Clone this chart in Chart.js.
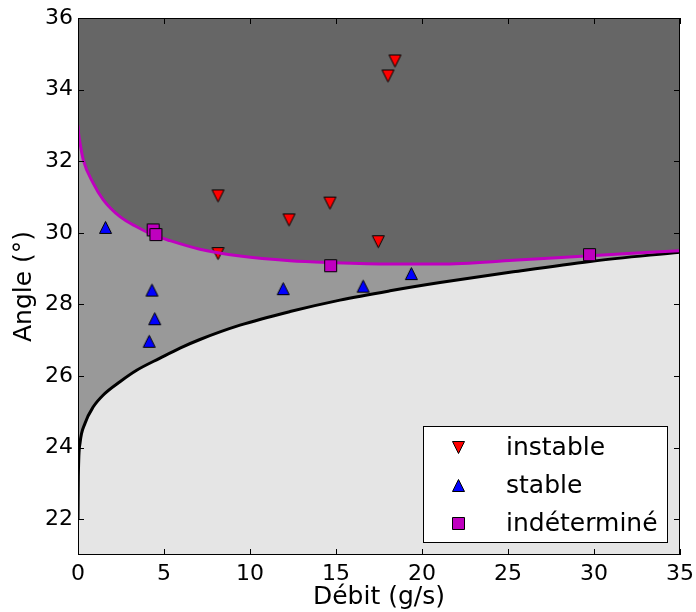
<!DOCTYPE html>
<html><head><meta charset="utf-8">
<script src="https://cdn.jsdelivr.net/npm/chart.js@4/dist/chart.umd.min.js"></script>
<style>html,body{margin:0;padding:0;background:#fff}</style>
</head><body>
<canvas id="c" width="696" height="612"></canvas>
<script>
// ---- data ----
const instableX = [18.43, 18.02, 8.14, 12.27, 14.65, 17.46, 8.14];
const instableY = [34.80, 34.38, 31.03, 30.36, 30.83, 29.75, 29.42];
const stableX = [1.60, 4.30, 4.46, 4.14, 11.93, 16.58, 19.38];
const stableY = [30.15, 28.40, 27.60, 26.97, 28.44, 28.51, 28.86];
const indetX = [4.37, 4.53, 14.69, 29.74];
const indetY = [30.08, 29.95, 29.08, 29.39];
const upperCurveX = [0, 0.03, 0.12, 0.31, 0.89, 1.47, 2.44, 3.41, 4.38, 5.35, 7.09, 9.42, 12.33, 14.65, 18.14, 21.05, 25.31, 29.77, 35];
const upperCurveY = [33.0, 32.8, 32.5, 32.03, 31.38, 30.92, 30.45, 30.17, 29.94, 29.78, 29.54, 29.35, 29.22, 29.17, 29.13, 29.13, 29.23, 29.36, 29.50];
const lowerCurveX = [0.002, 0.02, 0.116, 0.41, 0.89, 1.47, 2.44, 3.41, 4.77, 5.93, 7.09, 9.42, 12.33, 15.23, 18.14, 21.05, 25.31, 29.77, 35];
const lowerCurveY = [22.0, 23.2, 24.12, 24.68, 25.14, 25.47, 25.84, 26.16, 26.50, 26.78, 27.02, 27.42, 27.80, 28.12, 28.38, 28.61, 28.91, 29.20, 29.46];
const xTicks = [0, 5, 10, 15, 20, 25, 30, 35];
const yTicks = [22, 24, 26, 28, 30, 32, 34, 36];
const seriesNames = ['instable', 'stable', 'indéterminé'];
const xTitle = 'Débit (g/s)';
const yTitle = 'Angle (°)';

const zip = (xs, ys) => xs.map((x, i) => ({x, y: ys[i]}));
const FONT = "'DejaVu Sans', sans-serif";
const MAG = '#bf00bf';

function marker(kind, color) {
  const c = document.createElement('canvas');
  c.width = 15; c.height = 15;
  const g = c.getContext('2d');
  g.beginPath();
  if (kind === 'down') { g.moveTo(1.5, 1.5); g.lineTo(13.5, 1.5); g.lineTo(7.5, 13.5); g.closePath(); }
  else if (kind === 'up') { g.moveTo(7.5, 1.5); g.lineTo(13.5, 13.5); g.lineTo(1.5, 13.5); g.closePath(); }
  else { g.rect(1.5, 1.5, 12, 12); }
  g.fillStyle = color; g.fill();
  g.lineWidth = 1; g.strokeStyle = '#000'; g.stroke();
  return c;
}
const mDown = marker('down', '#ff0000');
const mUp = marker('up', '#0000ff');
const mSq = marker('sq', MAG);

const deco = {
  id: 'deco',
  beforeDraw(chart) {
    const {ctx, chartArea: a} = chart;
    ctx.save();
    ctx.fillStyle = '#e5e5e5';
    ctx.fillRect(a.left, a.top, a.right - a.left, a.bottom - a.top);
    ctx.restore();
  },
  afterDraw(chart) {
    const {ctx, chartArea: a, scales} = chart;
    ctx.save();
    ctx.strokeStyle = '#000'; ctx.lineWidth = 1;
    ctx.beginPath();
    const L = 6;
    xTicks.forEach(v => {
      const px = Math.round(scales.x.getPixelForValue(v)) + 0.5;
      ctx.moveTo(px, a.bottom); ctx.lineTo(px, a.bottom - L);
      ctx.moveTo(px, a.top); ctx.lineTo(px, a.top + L);
    });
    yTicks.forEach(v => {
      const py = Math.round(scales.y.getPixelForValue(v)) + 0.5;
      ctx.moveTo(a.left, py); ctx.lineTo(a.left + L, py);
      ctx.moveTo(a.right, py); ctx.lineTo(a.right - L, py);
    });
    ctx.stroke();
    ctx.strokeRect(a.left + 0.5, a.top + 0.5, a.right - a.left - 1, a.bottom - a.top - 1);
    // legend
    const bx = 423.5, by = 426.5, bw = 244, bh = 116;
    ctx.fillStyle = '#fff'; ctx.fillRect(bx, by, bw, bh);
    ctx.strokeRect(bx, by, bw, bh);
    const imgs = [mDown, mUp, mSq];
    const rows = [447, 485, 523];
    ctx.font = '25px ' + FONT; ctx.fillStyle = '#000';
    ctx.textBaseline = 'middle'; ctx.textAlign = 'left';
    rows.forEach((ry, i) => {
      ctx.drawImage(imgs[i], 458 - 7, ry - 7);
      ctx.fillText(seriesNames[i], 506, ry + 1);
    });
    ctx.restore();
  }
};

new Chart(document.getElementById('c'), {
  type: 'scatter',
  data: {
    datasets: [
      {label: seriesNames[2], data: zip(indetX, indetY), pointStyle: mSq, pointRadius: 7, pointHoverRadius: 7},
      {label: 'upper', data: zip(upperCurveX, upperCurveY), showLine: true, borderColor: MAG, borderWidth: 3,
        pointRadius: 0, cubicInterpolationMode: 'monotone', fill: 'end', backgroundColor: '#666666'},
      {label: seriesNames[0], data: zip(instableX, instableY), pointStyle: mDown, pointRadius: 7, pointHoverRadius: 7},
      {label: seriesNames[1], data: zip(stableX, stableY), pointStyle: mUp, pointRadius: 7, pointHoverRadius: 7},
      {label: 'lower', data: zip(lowerCurveX, lowerCurveY), showLine: true, borderColor: '#000', borderWidth: 3,
        pointRadius: 0, cubicInterpolationMode: 'monotone', fill: 'end', backgroundColor: '#999999'}
    ]
  },
  options: {
    responsive: false, animation: false, devicePixelRatio: 1,
    layout: {padding: {top: 18, right: 16, left: 0, bottom: 0}},
    plugins: {legend: {display: false}, tooltip: {enabled: false}, filler: {drawTime: 'beforeDatasetsDraw'}},
    scales: {
      x: {
        type: 'linear', min: 0, max: 35,
        afterBuildTicks: s => { s.ticks = xTicks.map(v => ({value: v})); },
        afterFit: s => { s.height = 57; s.paddingLeft = 0; s.paddingRight = 0; },
        grid: {display: false, drawTicks: false},
        border: {display: false},
        ticks: {font: {family: FONT, size: 22}, color: '#000', padding: 6, maxRotation: 0, autoSkip: false,
          callback: v => String(v)},
        title: {display: true, text: xTitle, font: {family: FONT, size: 25}, color: '#000', padding: {top: 0, bottom: 0}}
      },
      y: {
        type: 'linear', min: 21, max: 36,
        afterBuildTicks: s => { s.ticks = yTicks.map(v => ({value: v})); },
        afterFit: s => { s.width = 78; s.paddingTop = 0; s.paddingBottom = 0; },
        grid: {display: false, drawTicks: false},
        border: {display: false},
        ticks: {font: {family: FONT, size: 22}, color: '#000', padding: 5, autoSkip: false,
          callback: v => String(v)},
        title: {display: true, text: yTitle, font: {family: FONT, size: 25}, color: '#000', padding: {top: 9, bottom: 0}}
      }
    }
  },
  plugins: [deco]
});
</script>
</body></html>
